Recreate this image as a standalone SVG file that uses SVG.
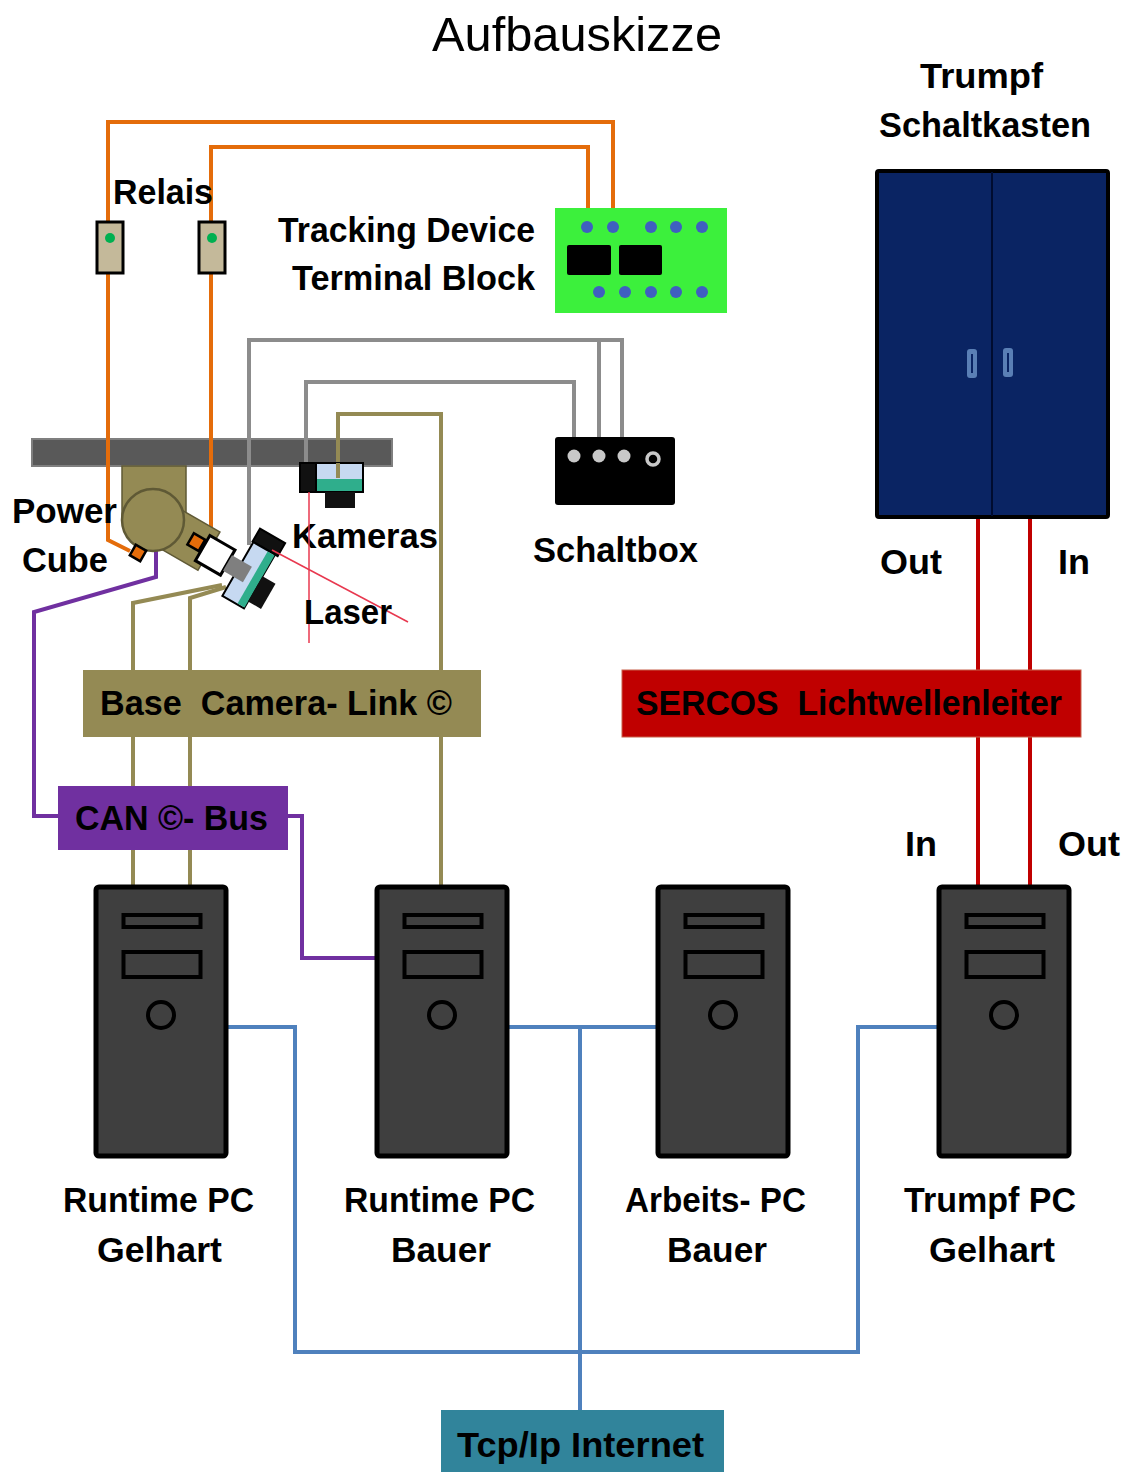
<svg xmlns="http://www.w3.org/2000/svg" xmlns:xlink="http://www.w3.org/1999/xlink" width="1127" height="1472" viewBox="0 0 1127 1472">
  <style>
    .lbl { font-family: "Liberation Sans", Arial, sans-serif; font-weight: bold; font-size: 35px; fill: #000; white-space: pre; }
    .title { font-family: "Liberation Sans", Arial, sans-serif; font-size: 48px; fill: #000; }
    .wire { fill: none; stroke-width: 4; stroke-linejoin: miter; }
    .orange { stroke: #e46c0a; }
    .olive { stroke: #948a54; }
    .gray { stroke: #8c8c8c; }
    .purple { stroke: #7030a0; }
    .blue { stroke: #4f81bd; }
    .red { stroke: #c00000; }
    .laser { stroke: #e8384f; stroke-width: 1.5; fill: none; }
    .pin { fill: #3f5fc0; }
    .swpin { fill: #c8c8c8; }
  </style>
  <defs>
    <g id="tower">
      <rect x="0" y="0" width="130" height="269" rx="3" fill="#3f3f3f" stroke="#000" stroke-width="5"/>
      <rect x="27.5" y="28" width="77" height="12" fill="#404040" stroke="#000" stroke-width="4"/>
      <rect x="27.5" y="65" width="77" height="25" fill="#404040" stroke="#000" stroke-width="4"/>
      <circle cx="65" cy="128" r="13" fill="#404040" stroke="#000" stroke-width="4"/>
    </g>
  </defs>

  <rect width="1127" height="1472" fill="#fff"/>

  <text class="title" x="432" y="51" textLength="290" lengthAdjust="spacingAndGlyphs">Aufbauskizze</text>

  <!-- mounting rail -->
  <g id="rail">
    <rect x="32" y="439" width="360" height="27" fill="#595959" stroke="#7f7f7f" stroke-width="2"/>
  </g>

  <!-- connectors -->
  <g id="connectors">
    <!-- relay wiring to terminal block -->
    <polyline class="wire orange" points="130,551 108,540 108,122 613,122 613,226"/>
    <polyline class="wire orange" points="195,547 211,528 211,147 588,147 588,226"/>
    <!-- switch box wiring -->
    <polyline class="wire gray" points="249,545 249,340 622,340 622,456"/>
    <polyline class="wire gray" points="599,340 599,456"/>
    <polyline class="wire gray" points="306,465 306,382 574,382 574,456"/>
    <!-- camera link -->
    <polyline class="wire olive" points="338,478 338,414 441,414 441,887"/>
    <polyline class="wire olive" points="222,585 133,603 133,887"/>
    <polyline class="wire olive" points="226,587 190,598 190,887"/>
    <!-- CAN bus -->
    <polyline class="wire purple" points="156,550 156,577 34,612 34,816 60,816"/>
    <polyline class="wire purple" points="286,816 302,816 302,958 378,958"/>
    <!-- SERCOS fibre -->
    <polyline class="wire red" points="978,515 978,888"/>
    <polyline class="wire red" points="1030,515 1030,888"/>
    <!-- network -->
    <polyline class="wire blue" points="226,1027 295,1027 295,1352 858,1352 858,1027 940,1027"/>
    <polyline class="wire blue" points="506,1027 659,1027"/>
    <polyline class="wire blue" points="580,1027 580,1412"/>
  </g>

  <!-- relays -->
  <g id="relais">
    <rect x="97" y="222" width="26" height="51" fill="#c4b99a" stroke="#000" stroke-width="3"/>
    <circle cx="110" cy="238" r="5" fill="#00b050"/>
    <rect x="199" y="222" width="26" height="51" fill="#c4b99a" stroke="#000" stroke-width="3"/>
    <circle cx="212" cy="238" r="5" fill="#00b050"/>
    <text class="lbl" x="113" y="204" textLength="100" lengthAdjust="spacingAndGlyphs">Relais</text>
  </g>

  <!-- tracking device terminal block -->
  <g id="terminal-block">
    <rect x="555" y="208" width="172" height="105" fill="#3cf03c"/>
    <circle class="pin" cx="587" cy="227" r="6"/>
    <circle class="pin" cx="613" cy="227" r="6"/>
    <circle class="pin" cx="651" cy="227" r="6"/>
    <circle class="pin" cx="676" cy="227" r="6"/>
    <circle class="pin" cx="702" cy="227" r="6"/>
    <rect x="567" y="245" width="44" height="30" rx="2" fill="#000"/>
    <rect x="619" y="245" width="43" height="30" rx="2" fill="#000"/>
    <circle class="pin" cx="599" cy="292" r="6"/>
    <circle class="pin" cx="625" cy="292" r="6"/>
    <circle class="pin" cx="651" cy="292" r="6"/>
    <circle class="pin" cx="676" cy="292" r="6"/>
    <circle class="pin" cx="702" cy="292" r="6"/>
    <text class="lbl" x="278" y="242" textLength="257" lengthAdjust="spacingAndGlyphs">Tracking Device</text>
    <text class="lbl" x="292" y="290" textLength="243" lengthAdjust="spacingAndGlyphs">Terminal Block</text>
  </g>

  <!-- switch box -->
  <g id="schaltbox">
    <rect x="555" y="437" width="120" height="68" rx="3" fill="#000"/>
    <circle class="swpin" cx="574" cy="456" r="6.5"/>
    <circle class="swpin" cx="599" cy="456" r="6.5"/>
    <circle class="swpin" cx="624" cy="456" r="6.5"/>
    <circle cx="653" cy="459" r="6" fill="#000" stroke="#c8c8c8" stroke-width="3.5"/>
    <text class="lbl" x="533" y="562" textLength="165" lengthAdjust="spacingAndGlyphs">Schaltbox</text>
  </g>

  <!-- power cube with camera 1 -->
  <g id="power-cube">
    <rect x="122" y="466" width="64" height="56" fill="#948a54" stroke="#5f5935" stroke-width="1.5"/>
    <g transform="translate(153,520) rotate(30)">
      <rect x="0" y="-23" width="64" height="44" fill="#948a54" stroke="#5f5935" stroke-width="1.5"/>
      <rect x="42" y="-9" width="13" height="13" fill="#e46c0a" stroke="#000" stroke-width="2.5"/>
      <rect x="57" y="-15" width="29" height="29" fill="#fff" stroke="#000" stroke-width="3"/>
      <!-- camera 1 -->
      <rect x="97" y="-46" width="29" height="15" fill="#111" stroke="#000" stroke-width="2"/>
      <rect x="98" y="-31" width="25" height="62" fill="#c6d9f1" stroke="#000" stroke-width="2"/>
      <rect x="115" y="-30" width="8" height="60" fill="#2fae8c"/>
      <rect x="123" y="-6" width="15" height="29" fill="#111"/>
      <rect x="86" y="-9" width="23" height="18" fill="#7f7f7f"/>
    </g>
    <circle cx="153" cy="520" r="31" fill="#948a54" stroke="#5f5935" stroke-width="2.5"/>
    <rect x="132" y="547" width="12" height="12" fill="#e46c0a" stroke="#000" stroke-width="2.5" transform="rotate(30,138,553)"/>
    <text class="lbl" x="12" y="523" textLength="105" lengthAdjust="spacingAndGlyphs">Power</text>
    <text class="lbl" x="22" y="572" textLength="86" lengthAdjust="spacingAndGlyphs">Cube</text>
  </g>

  <!-- camera 2 on rail -->
  <g id="kameras">
    <rect x="300" y="463" width="16" height="29" fill="#111" stroke="#000" stroke-width="2"/>
    <rect x="316" y="463" width="47" height="29" fill="#c6d9f1" stroke="#000" stroke-width="2"/>
    <rect x="317" y="479" width="45" height="12" fill="#2fae8c"/>
    <rect x="325" y="492" width="30" height="16" fill="#111"/>
    <line x1="338" y1="463" x2="338" y2="478" class="wire olive"/>
    <text class="lbl" x="292" y="548" textLength="146" lengthAdjust="spacingAndGlyphs">Kameras</text>
  </g>

  <!-- laser beams -->
  <g id="laser">
    <line class="laser" x1="309" y1="492" x2="309" y2="643"/>
    <line class="laser" x1="272" y1="550" x2="408" y2="622"/>
    <text class="lbl" x="304" y="624" textLength="88" lengthAdjust="spacingAndGlyphs">Laser</text>
  </g>

  <!-- Trumpf cabinet -->
  <g id="schaltkasten">
    <rect x="877" y="171" width="231" height="346" rx="2" fill="#0a2463" stroke="#000" stroke-width="4"/>
    <line x1="992" y1="172" x2="992" y2="516" stroke="#000c30" stroke-width="2"/>
    <rect x="967" y="349" width="10" height="29" rx="3" fill="#5a7fb5"/>
    <line x1="972" y1="354" x2="972" y2="373" stroke="#0a2463" stroke-width="2"/>
    <rect x="1003" y="348" width="10" height="29" rx="3" fill="#5a7fb5"/>
    <line x1="1008" y1="353" x2="1008" y2="372" stroke="#0a2463" stroke-width="2"/>
    <text class="lbl" x="920" y="88" textLength="123" lengthAdjust="spacingAndGlyphs">Trumpf</text>
    <text class="lbl" x="879" y="137" textLength="212" lengthAdjust="spacingAndGlyphs">Schaltkasten</text>
    <text class="lbl" x="880" y="574" textLength="62" lengthAdjust="spacingAndGlyphs">Out</text>
    <text class="lbl" x="1058" y="574" textLength="32" lengthAdjust="spacingAndGlyphs">In</text>
  </g>

  <!-- bus boxes -->
  <g id="camera-link">
    <rect x="83" y="670" width="398" height="67" fill="#948a54"/>
    <text class="lbl" xml:space="preserve" x="100" y="715" textLength="352" lengthAdjust="spacingAndGlyphs">Base  Camera- Link ©</text>
  </g>

  <g id="can-bus">
    <rect x="58" y="786" width="230" height="64" fill="#7030a0"/>
    <text class="lbl" x="75" y="830" textLength="193" lengthAdjust="spacingAndGlyphs">CAN ©- Bus</text>
  </g>

  <g id="sercos">
    <rect x="622" y="670" width="459" height="67" fill="#c00000" stroke="#c8604a" stroke-width="1"/>
    <text class="lbl" xml:space="preserve" x="636" y="715" textLength="426" lengthAdjust="spacingAndGlyphs" fill="#1a0000">SERCOS  Lichtwellenleiter</text>
    <text class="lbl" x="905" y="856" textLength="32" lengthAdjust="spacingAndGlyphs">In</text>
    <text class="lbl" x="1058" y="856" textLength="62" lengthAdjust="spacingAndGlyphs">Out</text>
  </g>

  <!-- computers -->
  <g id="pc-runtime-gelhart">
    <use xlink:href="#tower" x="96" y="887"/>
    <text class="lbl" x="63" y="1212" textLength="191" lengthAdjust="spacingAndGlyphs">Runtime PC</text>
    <text class="lbl" x="97" y="1262" textLength="125" lengthAdjust="spacingAndGlyphs">Gelhart</text>
  </g>
  <g id="pc-runtime-bauer">
    <use xlink:href="#tower" x="377" y="887"/>
    <text class="lbl" x="344" y="1212" textLength="191" lengthAdjust="spacingAndGlyphs">Runtime PC</text>
    <text class="lbl" x="391" y="1262" textLength="100" lengthAdjust="spacingAndGlyphs">Bauer</text>
  </g>
  <g id="pc-arbeits-bauer">
    <use xlink:href="#tower" x="658" y="887"/>
    <text class="lbl" x="625" y="1212" textLength="181" lengthAdjust="spacingAndGlyphs">Arbeits- PC</text>
    <text class="lbl" x="667" y="1262" textLength="100" lengthAdjust="spacingAndGlyphs">Bauer</text>
  </g>
  <g id="pc-trumpf-gelhart">
    <use xlink:href="#tower" x="939" y="887"/>
    <text class="lbl" x="904" y="1212" textLength="172" lengthAdjust="spacingAndGlyphs">Trumpf PC</text>
    <text class="lbl" x="929" y="1262" textLength="126" lengthAdjust="spacingAndGlyphs">Gelhart</text>
  </g>

  <g id="internet">
    <rect x="441" y="1410" width="283" height="62" fill="#31849b"/>
    <text class="lbl" x="457" y="1457" textLength="247" lengthAdjust="spacingAndGlyphs">Tcp/Ip Internet</text>
  </g>
</svg>
